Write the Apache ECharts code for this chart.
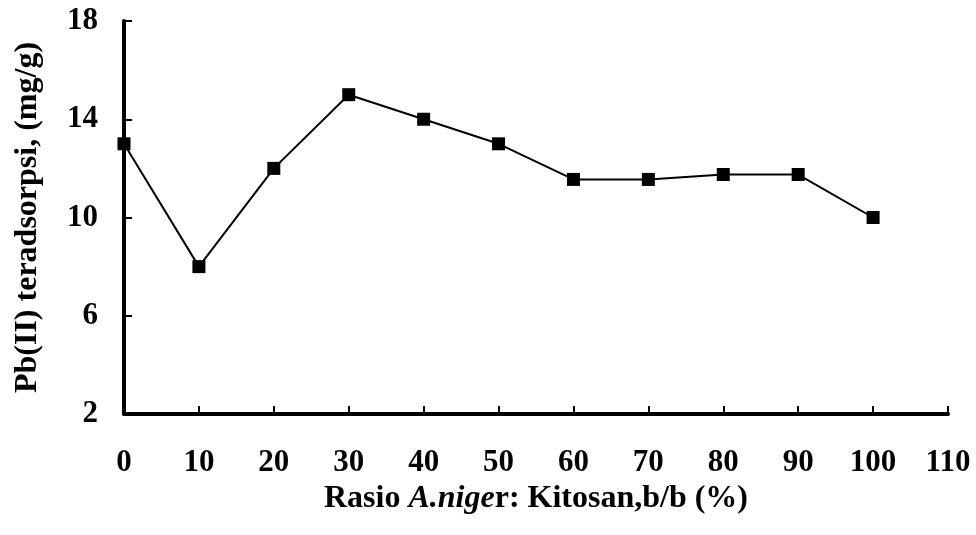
<!DOCTYPE html>
<html>
<head>
<meta charset="utf-8">
<script src="https://cdn.jsdelivr.net/npm/echarts@6/dist/echarts.min.js"></script>
<style>html,body{margin:0;padding:0;background:#fff}#c{width:976px;height:535px}</style>
</head>
<body>
<div id="c"></div>
<script>
const ratios = [0, 10, 20, 30, 40, 50, 60, 70, 80, 90, 100];
const adsorbed = [13, 8, 12, 15, 14, 13, 11.55, 11.55, 11.75, 11.75, 10];
const xTicks = {min: 0, max: 110, interval: 10};
const yTicks = {min: 2, max: 18, interval: 4};

const font = "'Liberation Serif', 'Times New Roman', serif";
const chart = echarts.init(document.getElementById('c'));
chart.setOption({
  animation: false,
  backgroundColor: '#fff',
  grid: {left: 124, right: 28, top: 21, bottom: 121},
  xAxis: {
    type: 'value',
    min: xTicks.min, max: xTicks.max, interval: xTicks.interval,
    splitLine: {show: false},
    axisLine: {lineStyle: {color: '#000', width: 4}},
    axisTick: {inside: true, length: 8, lineStyle: {color: '#000', width: 2}},
    axisLabel: {color: '#000', fontFamily: font, fontWeight: 'bold', fontSize: 31, margin: 33},
    name: '{b|Rasio }{i|A.nige}{b|r: Kitosan,b/b (%)}',
    nameLocation: 'middle',
    nameGap: 63,
    nameTextStyle: {
      rich: {
        b: {color: '#000', fontFamily: font, fontWeight: 'bold', fontSize: 32},
        i: {color: '#000', fontFamily: font, fontWeight: 'bold', fontStyle: 'italic', fontSize: 32}
      }
    }
  },
  yAxis: {
    type: 'value',
    min: yTicks.min, max: yTicks.max, interval: yTicks.interval,
    splitLine: {show: false},
    axisLine: {lineStyle: {color: '#000', width: 4}},
    axisTick: {inside: true, length: 8, lineStyle: {color: '#000', width: 2}},
    axisLabel: {color: '#000', fontFamily: font, fontWeight: 'bold', fontSize: 31, margin: 26},
    name: 'Pb(II) teradsorpsi, (mg/g)',
    nameLocation: 'middle',
    nameGap: 80,
    nameTextStyle: {color: '#000', fontFamily: font, fontWeight: 'bold', fontSize: 32}
  },
  series: [{
    type: 'line',
    data: ratios.map((r, i) => [r, adsorbed[i]]),
    symbol: 'rect',
    symbolSize: 13,
    lineStyle: {color: '#000', width: 2},
    itemStyle: {color: '#000'}
  }]
});
</script>
</body>
</html>
